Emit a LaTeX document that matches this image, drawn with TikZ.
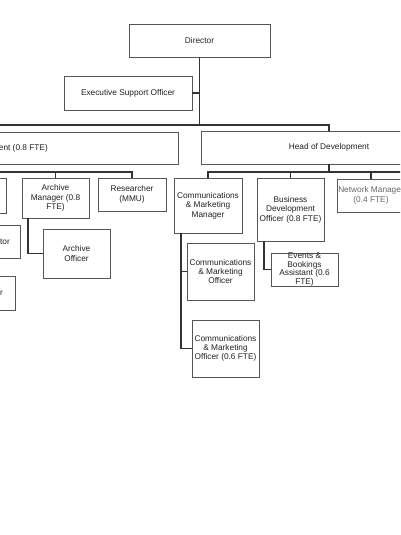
\documentclass[tikz,border=0pt]{standalone}
\usepackage{fontspec}
\setmainfont{Liberation Sans}
\usepackage{xcolor}
\usepackage{tikz}
\usetikzlibrary{positioning, calc}
\definecolor{boxgrey}{HTML}{555555}
\definecolor{linegrey}{HTML}{333333}
\definecolor{inkgrey}{HTML}{222222}
\definecolor{softgrey}{HTML}{666666}
\tikzset{
  post/.style={draw=boxgrey, fill=white, line width=0.8pt, align=center, inner sep=0pt,
               font=\fontsize{8.3}{9.6}\selectfont, text=inkgrey},
  frag/.style={inner sep=0pt, font=\fontsize{8.3}{9.6}\selectfont, text=inkgrey},
  link/.style={draw=linegrey, line width=1.3pt},
}
\begin{document}
\begin{tikzpicture}[x=1pt, y=-1pt]
  \useasboundingbox (0,0) rectangle (400,535);
  \clip (0,0) rectangle (400,535);
  % top level
  \node[post, minimum width=141, minimum height=33] (dir) at (199.5,40.5) {Director};
  \node[post, minimum width=128, minimum height=34] (eso) at (128,93) {Executive Support Officer};
  \node[post, minimum width=298, minimum height=32] (hcm) at (29,148) {};
  \node[frag, anchor=east] (hcmlbl) at (48,148) {ent (0.8 FTE)};
  \node[post, minimum width=256, minimum height=33] (hod) at (329,147.5) {Head of Development};
  % left branch
  \node[post, minimum width=66, minimum height=35] (lbox) at (-27,195.5) {};
  \node[post, minimum width=67, minimum height=40] (am) at (55.5,198) {Archive\\Manager (0.8\\FTE)};
  \node[post, minimum width=68, minimum height=33] (res) at (132,194.5) {Researcher\\(MMU)};
  \node[post, minimum width=67, minimum height=49] (ao) at (76.5,253.5) {Archive\\Officer};
  \node[post, minimum width=80, minimum height=33] (ltor) at (-20,241.5) {};
  \node[frag, anchor=east] (ltorlbl) at (10,241.5) {tor};
  \node[post, minimum width=75, minimum height=34] (lor) at (-22.5,293) {};
  \node[frag, anchor=east] (lorlbl) at (3,293) {or};
  % development branch
  \node[post, minimum width=68, minimum height=55] (cmm) at (208,205.5) {Communications\\\& Marketing\\Manager};
  \node[post, minimum width=67, minimum height=63] (bdo) at (290.5,209.5) {Business\\Development\\Officer (0.8 FTE)};
  \node[post, minimum width=68, minimum height=33, text=softgrey] (nm) at (371,195.5) {Network Manage\phantom{r}\\(0.4 FTE)};
  \node[post, minimum width=67, minimum height=57,
        font=\fontsize{8.3}{8.7}\selectfont] (cmo) at (220.5,271.5) {Communications\\\& Marketing\\Officer};
  \node[post, minimum width=67, minimum height=57,
        font=\fontsize{8.3}{8.7}\selectfont] (cmosix) at (225.5,348.5) {Communications\\\& Marketing\\Officer (0.6 FTE)};
  \node[post, minimum width=67, minimum height=33,
        font=\fontsize{8.3}{8.4}\selectfont] (eba) at (304.5,269.5) {Events \&\\Bookings\\Assistant (0.6\\FTE)};
  % connectors
  \coordinate (offleft) at (-10,125);
  \coordinate (lbusend) at (-10,172);
  \coordinate (rbusend) at (410,172);
  \draw[link] (dir.south) -- (dir.south |- offleft);
  \draw[link] (eso.east) -- (eso.east -| dir.south);
  \draw[link] (offleft) -| (hod.north);
  \draw[link] (lbusend) -| (res.north);
  \draw[link] (am.north) -- (am.north |- lbusend);
  \draw[link] ([xshift=-27.5]am.south) |- (ao.west);
  \draw[link] (hod.south) -- (hod.south |- rbusend);
  \draw[link] (cmm.north) |- (rbusend);
  \draw[link] (bdo.north) -- (bdo.north |- rbusend);
  \draw[link] (nm.north) -- (nm.north |- rbusend);
  \coordinate (cmmdrop) at ([xshift=-27]cmm.south);
  \draw[link] (cmmdrop) |- (cmosix.west);
  \draw[link] (cmmdrop |- cmo.west) -- (cmo.west);
  \draw[link] ([xshift=-26.5]bdo.south) |- (eba.west);
\end{tikzpicture}
\end{document}
